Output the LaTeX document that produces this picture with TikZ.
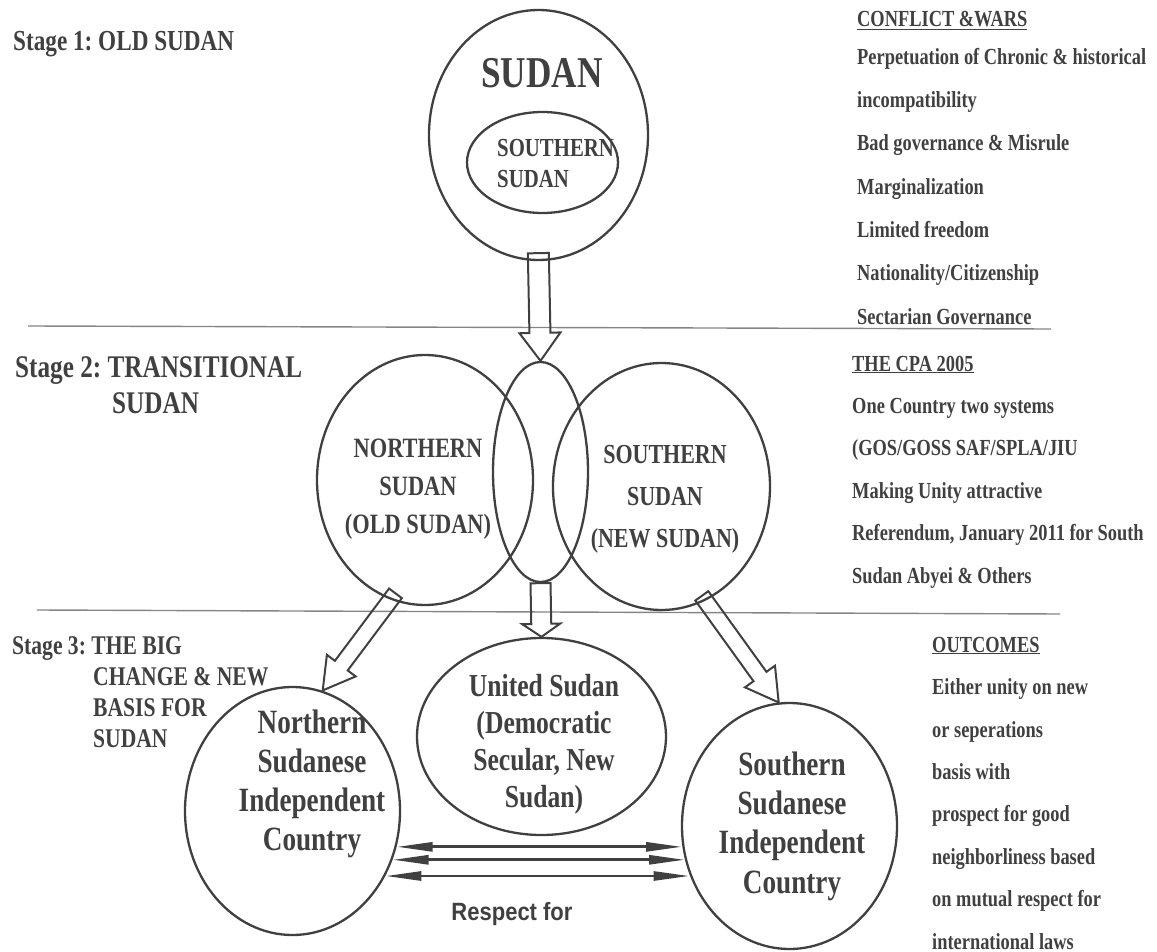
\documentclass[tikz,border=0pt]{standalone}
\usepackage{fontspec}
\setmainfont{Liberation Serif}[FakeStretch=0.8]
\newfontfamily\rsans{Liberation Sans}[FakeStretch=0.88]
\usetikzlibrary{shapes.geometric,arrows.meta,calc}
\definecolor{ink}{HTML}{404040}
\definecolor{rulegray}{HTML}{858585}
\newcommand\fsz[2]{\fontsize{#1}{#2}\selectfont}
\frenchspacing
% hollow block arrow: #1 start, #2 tip, #3 shaft half width, #4 head half width, #5 head length, #6 back extension
\newcommand\hollowarr[6]{%
  \path let \p1=(#1), \p2=(#2) in
    \pgfextra{\pgfmathsetmacro\haang{atan2(\y2-\y1,\x2-\x1)}%
              \pgfmathsetmacro\halen{veclen(\x2-\x1,\y2-\y1)}%
              \xdef\haang{\haang}\xdef\halen{\halen}};
  \begin{scope}[shift={(#1)}, rotate=\haang]
    \draw[hol] (-#6pt,-#3pt) -- (\halen pt-#5pt,-#3pt) -- (\halen pt-#5pt,-#4pt)
      -- (\halen pt,0pt) -- (\halen pt-#5pt,#4pt) -- (\halen pt-#5pt,#3pt)
      -- (-#6pt,#3pt) -- cycle;
  \end{scope}}
\tikzset{
  circ/.style={ellipse, draw=ink, line width=2.3pt, inner sep=0pt},
  txt/.style={text=ink, inner sep=0pt},
  hol/.style={draw=ink, line width=2pt, line join=miter},
  dbl/.style={draw=ink, line width=2.8pt, {Triangle[length=36pt,width=9pt]}-{Triangle[length=36pt,width=9pt]}},
  sep/.style={draw=rulegray, line width=1.4pt}
}
\begin{document}
\begin{tikzpicture}[x=1pt,y=-1pt]
\useasboundingbox (0,0) rectangle (1157,952);

% separators
\draw[sep] (28,326) -- (1051,329);
\draw[sep] (37,610) -- (1060,614);

% stage labels (multi-line nodes: base = last line)
\node[txt, anchor=base west, font=\bfseries\fsz{29}{34}] (st1) at (13,51) {Stage 1: OLD SUDAN};
\node[txt, anchor=base west, align=left, font=\bfseries\fsz{31.5}{36}] (st2) at (15,413)
  {Stage 2: TRANSITIONAL\\\hspace*{97pt}SUDAN};
\node[txt, anchor=base west, align=left, font=\bfseries\fsz{27}{30.7}] (st3) at (12,747)
  {Stage 3: THE BIG\\\hspace*{81pt}CHANGE \& NEW\\\hspace*{81pt}BASIS FOR\\\hspace*{81pt}SUDAN};

% circles
\node[circ, minimum width=219pt, minimum height=250pt] (sudan) at (538.5,135) {};
\node[circ, minimum width=151pt, minimum height=101pt] (inner) at (542.5,162.5) {};
\node[circ, minimum width=95pt, minimum height=220pt] (mid) at (540.5,472) {};
\node[circ, minimum width=216pt, minimum height=250pt] (ns) at (425,480) {};
\node[circ, minimum width=217pt, minimum height=247pt] (ss) at (661.5,486.5) {};
\node[circ, minimum width=215pt, minimum height=248pt] (nsi) at (292.5,811) {};
\node[circ, minimum width=249pt, minimum height=197pt] (united) at (541.5,736.5) {};
\node[circ, minimum width=215pt, minimum height=246pt] (ssi) at (789.5,826) {};

% texts in circles
\node[txt, anchor=base, font=\bfseries\fsz{44}{50}] (tsudan) at (542,88) {SUDAN};
\node[txt, anchor=base west, align=left, font=\bfseries\fsz{26}{31}] (tinner) at (497,188) {SOUTHERN\\SUDAN};
\node[txt, anchor=base, align=center, font=\bfseries\fsz{28}{38}] (tns) at (418,533) {NORTHERN\\SUDAN\\(OLD SUDAN)};
\node[txt, anchor=base, align=center, font=\bfseries\fsz{27.5}{42}] (tss) at (665,547) {SOUTHERN\\SUDAN\\(NEW SUDAN)};
\node[txt, anchor=base, align=center, font=\bfseries\fsz{34}{39}] (tnsi) at (312,850) {Northern\\Sudanese\\Independent\\Country};
\node[txt, anchor=base, align=center, font=\bfseries\fsz{32}{36.7}] (tun) at (544,807) {United Sudan\\(Democratic\\Secular, New\\Sudan)};
\node[txt, anchor=base, align=center, font=\bfseries\fsz{34}{39.3}] (tssi) at (792,893) {Southern\\Sudanese\\Independent\\Country};

% right-hand lists
\node[txt, anchor=base west, font=\bfseries\fsz{23}{43}] (h1) at (857,27) {\underline{CONFLICT \&WARS}};
\node[txt, anchor=base west, align=left, font=\bfseries\fsz{23}{43.3}] (l1) at (857,324)
  {Perpetuation of Chronic \& historical\\incompatibility\\Bad governance \& Misrule\\Marginalization\\Limited freedom\\Nationality/Citizenship\\Sectarian Governance};
\node[txt, anchor=base west, font=\bfseries\fsz{23}{43}] (h2) at (852,371) {\underline{THE CPA 2005}};
\node[txt, anchor=base west, align=left, font=\bfseries\fsz{23}{42.4}] (l2) at (852,583)
  {One Country two systems\\(GOS/GOSS SAF/SPLA/JIU\\Making Unity attractive\\Referendum, January 2011 for South\\Sudan Abyei \& Others};
\node[txt, anchor=base west, font=\bfseries\fsz{23}{43}] (h3) at (932,652) {\underline{OUTCOMES}};
\node[txt, anchor=base west, align=left, font=\bfseries\fsz{23}{42.4}] (l3) at (932,949)
  {Either unity on new\\or seperations\\basis with\\prospect for good\\neighborliness based\\on mutual respect for\\international laws};

\node[txt, anchor=base, font=\rsans\bfseries\fsz{25}{30}] (resp) at (512,920) {Respect for};

% hollow arrows
\hollowarr{sudan.south}{mid.north}{10.5}{20.5}{28}{8}
\hollowarr{mid.south}{united.north}{10}{19}{13}{0}
\hollowarr{ns.-106}{nsi.76}{8}{18}{31}{8}
\hollowarr{ss.-69}{ssi.95}{8}{18.5}{32}{6}

% double arrows
\draw[dbl] (nsi.-19) -- (nsi.-19 -| ssi.-170);
\draw[dbl] (nsi.-26) -- (nsi.-26 -| ssi.-162);
\draw[dbl] (nsi.-35) -- (nsi.-35 -| ssi.-154);
\end{tikzpicture}
\end{document}
